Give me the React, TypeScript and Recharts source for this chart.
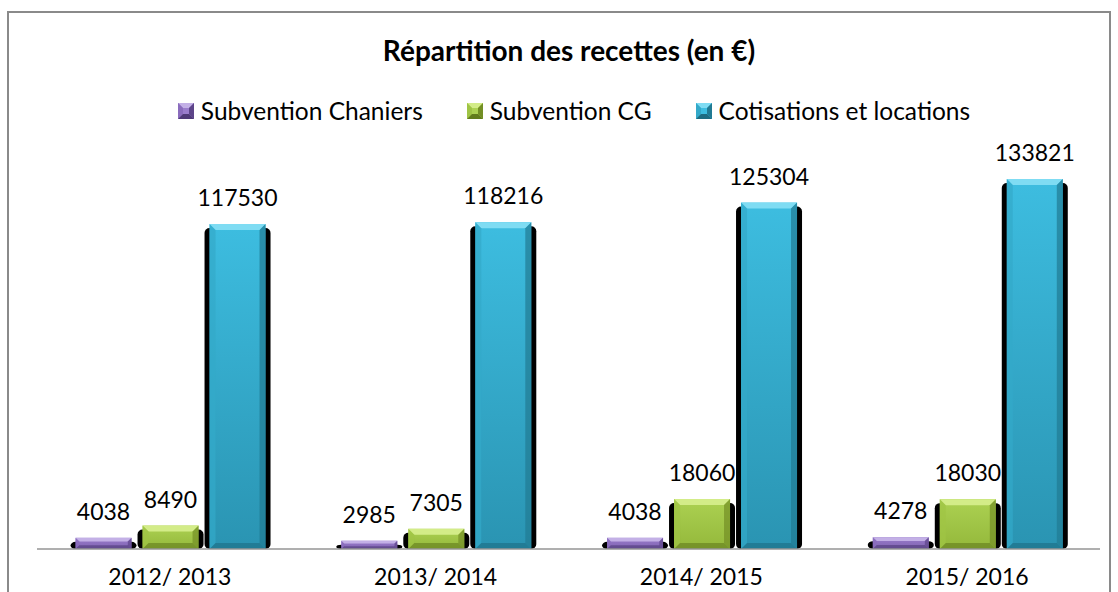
import { Bar, BarChart, LabelList, XAxis, YAxis } from "recharts";

// Valeurs
const PERIODES = ["2012/ 2013", "2013/ 2014", "2014/ 2015", "2015/ 2016"];
const SUBV_CHANIERS = [4038, 2985, 4038, 4278];
const SUBV_CG = [8490, 7305, 18060, 18030];
const COTISATIONS = [117530, 118216, 125304, 133821];

const POLICE = "Lato, 'Open Sans', sans-serif";

type Teintes = { haut: string; face1: string; face2: string; gauche: string; droite: string; bas: string };

const SERIES: { cle: string; nom: string; teintes: Teintes }[] = [
  {
    cle: "chaniers",
    nom: "Subvention Chaniers",
    teintes: { haut: "#c3b0e6", face1: "#9a7dcc", face2: "#7f62b0", gauche: "#8a6cbd", droite: "#5d4589", bas: "#4f3a78" },
  },
  {
    cle: "cg",
    nom: "Subvention CG",
    teintes: { haut: "#d3ec88", face1: "#acd152", face2: "#94b83b", gauche: "#9fc445", droite: "#738f25", bas: "#627c1c" },
  },
  {
    cle: "cotis",
    nom: "Cotisations et locations",
    teintes: { haut: "#7fdcf3", face1: "#3dbde0", face2: "#2a94b2", gauche: "#33a9c9", droite: "#217a93", bas: "#1d6c82" },
  },
];

const donnees = PERIODES.map((p, i) => ({
  periode: p,
  chaniers: SUBV_CHANIERS[i],
  cg: SUBV_CG[i],
  cotis: COTISATIONS[i],
}));

function barreBiseautee(t: Teintes, id: string) {
  return (props: any) => {
    const { x, y, width: w, height: h, index } = props;
    if (!h || h <= 0) return <g />;
    const b = Math.max(2, Math.min(6, w / 5, h / 3));
    const gid = `${id}-${index}`;
    return (
      <g>
        <defs>
          <linearGradient id={gid} x1="0" y1="0" x2="0" y2="1">
            <stop offset="0%" stopColor={t.face1} />
            <stop offset="100%" stopColor={t.face2} />
          </linearGradient>
        </defs>
        <rect x={x - 5} y={y + 4} width={w + 10} height={h - 4} rx={5} fill="#000" />
        <rect x={x} y={y} width={w} height={h} fill={`url(#${gid})`} />
        <polygon points={`${x},${y} ${x + w},${y} ${x + w - b},${y + b} ${x + b},${y + b}`} fill={t.haut} />
        <polygon points={`${x},${y} ${x + b},${y + b} ${x + b},${y + h - b} ${x},${y + h}`} fill={t.gauche} opacity={0.7} />
        <polygon points={`${x + w},${y} ${x + w},${y + h} ${x + w - b},${y + h - b} ${x + w - b},${y + b}`} fill={t.droite} opacity={0.7} />
        <polygon points={`${x},${y + h} ${x + b},${y + h - b} ${x + w - b},${y + h - b} ${x + w},${y + h}`} fill={t.bas} opacity={0.6} />
      </g>
    );
  };
}

function Pastille({ t }: { t: Teintes }) {
  const s = 16;
  const b = 5;
  return (
    <svg width={s} height={s} style={{ display: "block" }}>
      <rect x={0} y={0} width={s} height={s} fill={t.face1} />
      <polygon points={`0,0 ${s},0 ${s - b},${b} ${b},${b}`} fill={t.haut} />
      <polygon points={`0,0 ${b},${b} ${b},${s - b} 0,${s}`} fill={t.gauche} />
      <polygon points={`${s},0 ${s},${s} ${s - b},${s - b} ${s - b},${b}`} fill={t.droite} />
      <polygon points={`0,${s} ${b},${s - b} ${s - b},${s - b} ${s},${s}`} fill={t.bas} />
    </svg>
  );
}

export default function App() {
  return (
    <div style={{ position: "absolute", left: 0, top: 0, width: 1118, height: 592, overflow: "hidden", background: "#fff", fontFamily: POLICE }}>
      <div
        style={{
          position: "absolute",
          left: 7,
          top: 11,
          width: 1100,
          height: 640,
          border: "2px solid #8a8a8a",
        }}
      />
      <div
        style={{
          position: "absolute",
          left: 0,
          top: 33,
          width: 1138,
          textAlign: "center",
          fontWeight: 700,
          fontSize: 28,
          color: "#000",
        }}
      >
        Répartition des recettes (en €)
      </div>
      <div
        style={{
          position: "absolute",
          left: 0,
          top: 96,
          width: 1148,
          display: "flex",
          justifyContent: "center",
          gap: 44,
          fontSize: 24.5,
          color: "#000",
        }}
      >
        {SERIES.map((s) => (
          <span key={s.cle} style={{ display: "flex", alignItems: "center", gap: 7 }}>
            <Pastille t={s.teintes} />
            {s.nom}
          </span>
        ))}
      </div>
      <div style={{ position: "absolute", left: 0, top: 0 }}>
        <BarChart
          width={1118}
          height={592}
          data={donnees}
          margin={{ top: 162, right: 18, left: 37, bottom: 13 }}
          barCategoryGap="14.5%"
          barGap={11}
        >
          <YAxis hide domain={[0, 140000]} />
          <XAxis
            dataKey="periode"
            height={30}
            stroke="#959595"
            strokeWidth={1.5}
            tickLine={false}
            tick={(p: any) => (
              <text x={p.x} y={585} textAnchor="middle" fontSize={23} fontFamily={POLICE} fill="#000">
                {p.payload.value}
              </text>
            )}
          />
          {SERIES.map((s) => (
            <Bar key={s.cle} dataKey={s.cle} isAnimationActive={false} shape={barreBiseautee(s.teintes, s.cle)}>
              <LabelList
                dataKey={s.cle}
                position="top"
                offset={18}
                style={{ fontSize: 23, fill: "#000", fontFamily: POLICE }}
              />
            </Bar>
          ))}
        </BarChart>
      </div>
    </div>
  );
}
